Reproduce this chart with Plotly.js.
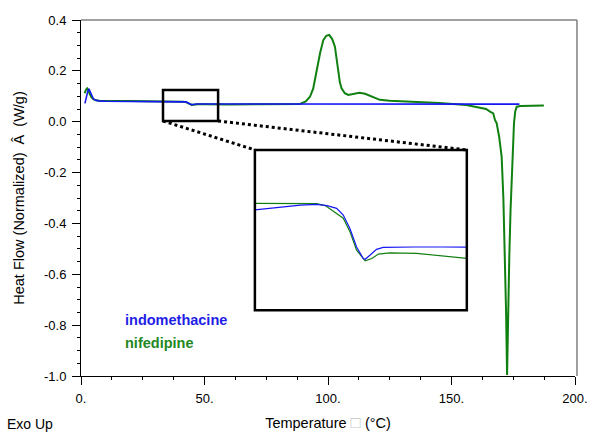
<!DOCTYPE html>
<html>
<head>
<meta charset="utf-8">
<script src="https://cdn.plot.ly/plotly-3.0.1.min.js"></script>
<style>html,body{margin:0;padding:0;background:#fff;}#chart{width:593px;height:432px;}</style>
</head>
<body>
<div id="chart"></div>
<script>
// ---- data ----
const tempIndo = [1.6, 2.2, 2.8, 3.2, 3.7, 4.3, 5.0, 5.8, 7, 10, 15, 20, 25, 30, 33.2, 35, 36.1, 38, 39.7, 40.8, 41.8, 42.5, 43.2, 43.9, 44.6, 44.8, 45.3, 46.0, 46.7, 48, 50, 53, 55.5, 60, 70, 80, 90, 100, 110, 120, 130, 140, 150, 160, 170, 177.5];
const hfIndo   = [0.072, 0.100, 0.122, 0.129, 0.118, 0.101, 0.090, 0.085, 0.082, 0.0805, 0.0802, 0.080, 0.0797, 0.0794, 0.0792, 0.0797, 0.0800, 0.0804, 0.0806, 0.0803, 0.0796, 0.0779, 0.0745, 0.0698, 0.0669, 0.0667, 0.0677, 0.0692, 0.0697, 0.0698, 0.0698, 0.0698, 0.0699, 0.0698, 0.0697, 0.0696, 0.0695, 0.0694, 0.0694, 0.0693, 0.0693, 0.0692, 0.0692, 0.0691, 0.0690, 0.0690];

const tempNife = [1.5, 2.0, 2.5, 3.0, 3.5, 4.2, 5.0, 6.0, 7.5, 10, 15, 20, 25, 30, 33.2, 36, 39.7, 40.6, 41.4, 42.5, 43.2, 43.9, 44.8, 45.5, 46.2, 47.4, 50.2, 52.3, 55.5, 60, 70, 80, 85, 88.7, 91, 92.7, 94, 95.4, 96.8, 98.1, 99.3, 100.5, 101.7, 102.8, 103.5, 104.2, 104.8, 105.5, 106.8, 108.2, 110, 112.7, 115, 118, 121, 125, 134.5, 145, 156, 161.5, 164, 165.6, 166.9, 167.6, 168.3, 169.3, 170.3, 171, 171.7, 172.1, 172.5, 172.9, 173.4, 173.9, 174.4, 174.9, 175.3, 175.8, 176.4, 178, 182, 187.4];
const hfNife   = [0.112, 0.126, 0.131, 0.124, 0.110, 0.097, 0.089, 0.084, 0.082, 0.0812, 0.081, 0.081, 0.081, 0.0809, 0.0809, 0.0809, 0.0808, 0.0803, 0.0790, 0.0771, 0.0737, 0.0690, 0.0663, 0.0669, 0.0680, 0.0683, 0.0682, 0.0677, 0.0669, 0.0680, 0.0683, 0.0685, 0.0688, 0.0700, 0.080, 0.098, 0.130, 0.203, 0.270, 0.321, 0.338, 0.341, 0.325, 0.295, 0.250, 0.190, 0.155, 0.131, 0.112, 0.105, 0.108, 0.114, 0.110, 0.097, 0.086, 0.082, 0.079, 0.074, 0.066, 0.057, 0.050, 0.040, 0.033, 0.007, -0.006, -0.060, -0.137, -0.300, -0.530, -0.750, -0.996, -0.750, -0.530, -0.350, -0.200, -0.080, -0.006, 0.040, 0.059, 0.062, 0.063, 0.064];

const xTickVals = [0, 50, 100, 150, 200];
const xTickText = ["0.", "50.", "100.", "150.", "200."];
const yTickVals = [0.4, 0.2, 0.0, -0.2, -0.4, -0.6, -0.8, -1.0];
const yTickText = ["0.4", "0.2", "0.0", "-0.2", "-0.4", "-0.6", "-0.8", "-1.0"];
const seriesNames = ["indomethacine", "nifedipine"];

const xRange = [0, 200];
const yRange = [-1.0, 0.4];
const zoomT = [33.2, 55.5];       // region magnified in inset (temperature)
const zoomHF = [0.003, 0.125];    // marker box height on main plot
const insetHF = [0.0538, 0.0944]; // inset vertical range
const insetDomX = [0.352, 0.781];
const insetDomY = [0.185, 0.635];

// ---- styles ----
const blue = "rgb(22,22,245)";
const green = "rgb(16,128,16)";
const font = "Arial, 'Liberation Sans', sans-serif";

const traces = [
  {x: tempNife, y: hfNife, type: "scatter", mode: "lines", name: seriesNames[1], line: {color: green, width: 2}, xaxis: "x", yaxis: "y"},
  {x: tempIndo, y: hfIndo, type: "scatter", mode: "lines", name: seriesNames[0], line: {color: blue, width: 1.6}, xaxis: "x", yaxis: "y"},
  {x: tempNife, y: hfNife, type: "scatter", mode: "lines", line: {color: green, width: 1.2}, xaxis: "x2", yaxis: "y2", showlegend: false},
  {x: tempIndo, y: hfIndo, type: "scatter", mode: "lines", line: {color: blue, width: 1.2}, xaxis: "x2", yaxis: "y2", showlegend: false}
];

function px(t) { return (t - xRange[0]) / (xRange[1] - xRange[0]); }
function py(v) { return (v - yRange[0]) / (yRange[1] - yRange[0]); }

const layout = {
  width: 593, height: 432,
  margin: {l: 81, r: 18, t: 20, b: 56},
  paper_bgcolor: "#fff", plot_bgcolor: "#fff",
  showlegend: false,
  font: {family: font, size: 13, color: "#000"},
  xaxis: {
    range: xRange, tickvals: xTickVals, ticktext: xTickText,
    ticks: "outside", ticklen: 8, tickcolor: "#000", showline: true, linecolor: "#000", linewidth: 1,
    showgrid: false, zeroline: false, ticklabelstandoff: 2,
    minor: {dtick: 12.5, ticks: "outside", ticklen: 3, tickcolor: "#000"},
    tickfont: {size: 13},
    title: {text: "Temperature <span style='color:#c8c8c8;font-size:17px'>□</span> (°C)", font: {size: 14.5}, standoff: 13}
  },
  yaxis: {
    range: yRange, tickvals: yTickVals, ticktext: yTickText,
    ticks: "outside", ticklen: 8, tickcolor: "#000", showline: true, linecolor: "#000", linewidth: 1,
    showgrid: false, zeroline: false, ticklabelstandoff: 3,
    minor: {dtick: 0.05, ticks: "outside", ticklen: 3, tickcolor: "#000"},
    tickfont: {size: 13},
    title: {text: "Heat Flow (Normalized)&nbsp; Â &nbsp;(W/g)", font: {size: 14.5}, standoff: 15}
  },
  xaxis2: {domain: insetDomX, anchor: "y2", range: zoomT, visible: false, fixedrange: true},
  yaxis2: {domain: insetDomY, anchor: "x2", range: insetHF, visible: false, fixedrange: true},
  shapes: [
    {type: "line", xref: "paper", yref: "paper", x0: 0, x1: 1.004, y0: 1, y1: 1, line: {color: "#808080", width: 1.5}},
    {type: "line", xref: "paper", yref: "paper", x0: 1.004, x1: 1.004, y0: 0, y1: 1, line: {color: "#808080", width: 1.5}},
    {type: "rect", xref: "x", yref: "y", x0: zoomT[0], x1: zoomT[1], y0: zoomHF[0], y1: zoomHF[1], line: {color: "#000", width: 2.5}},
    {type: "rect", xref: "paper", yref: "paper", x0: insetDomX[0], x1: insetDomX[1], y0: insetDomY[0], y1: insetDomY[1], line: {color: "#000", width: 2.5}},
    {type: "line", xref: "paper", yref: "paper", x0: px(zoomT[0]), y0: py(zoomHF[0]), x1: insetDomX[0], y1: insetDomY[1], line: {color: "#000", width: 3, dash: "dot"}},
    {type: "line", xref: "paper", yref: "paper", x0: px(zoomT[1]), y0: py(zoomHF[0]), x1: insetDomX[1], y1: insetDomY[1], line: {color: "#000", width: 3, dash: "dot"}}
  ],
  annotations: [
    {xref: "paper", yref: "paper", x: 0.085, y: 0.156, xanchor: "left", yanchor: "middle", showarrow: false, text: "<b>" + seriesNames[0] + "</b>", font: {color: "rgb(30,30,230)", size: 14.5}},
    {xref: "paper", yref: "paper", x: 0.085, y: 0.094, xanchor: "left", yanchor: "middle", showarrow: false, text: "<b>" + seriesNames[1] + "</b>", font: {color: "rgb(34,136,34)", size: 14.5}},
    {xref: "paper", yref: "paper", x: -0.154, y: -0.135, xanchor: "left", yanchor: "middle", showarrow: false, text: "Exo Up", font: {size: 14}}
  ]
};

Plotly.newPlot("chart", traces, layout, {displayModeBar: false, staticPlot: true});
</script>
</body>
</html>
